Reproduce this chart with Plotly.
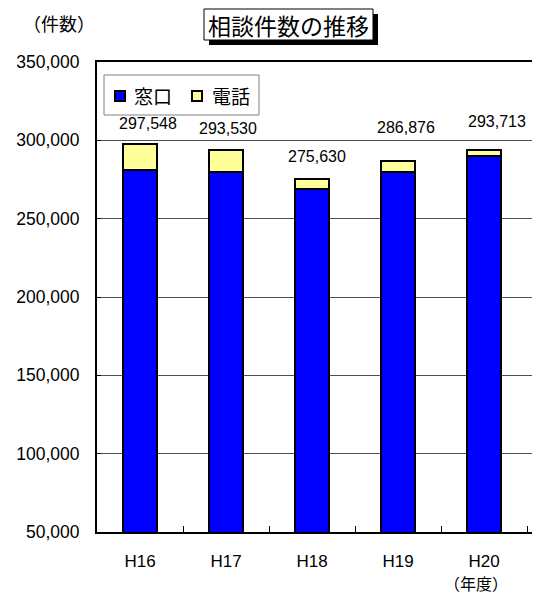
import plotly.graph_objects as go

categories = ["H16", "H17", "H18", "H19", "H20"]
madoguchi = [281000, 280000, 268800, 279600, 290000]
totals = [297548, 293530, 275630, 286876, 293713]
denwa = [t - m for t, m in zip(totals, madoguchi)]
total_labels = ["297,548", "293,530", "275,630", "286,876", "293,713"]
y_ticks = [50000, 100000, 150000, 200000, 250000, 300000, 350000]
series_names = ["窓口", "電話"]
series_colors = ["#0000FF", "#FFFF99"]

# label placement (pixels) - style only
label_dx = [8, 2, 5, 8, 13]
label_dy = [21, 22, 22, 33, 29]

NUM_FONT = "Liberation Sans, Arial, Noto Sans CJK JP"
JP_FONT = "Noto Sans CJK JP, Liberation Sans"

OFF = 8  # page body margin
PAGE_W, PAGE_H = 540, 597
W, H = PAGE_W - OFF, PAGE_H - OFF
L = 97 - OFF
T = 62 - OFF
B = H - (532 - OFF)
pw, ph = W - L, H - T - B

def px(x):
    return (x - OFF - L) / pw

def py(y):
    return (H - B - (y - OFF)) / ph

fig = go.Figure()
for name, vals, col in zip(series_names, [madoguchi, denwa], series_colors):
    fig.add_trace(go.Bar(x=categories, y=vals, name=name,
                         marker=dict(color=col, line=dict(color="black", width=2)),
                         width=0.4))

for c, t, lab, dx, dy in zip(categories, totals, total_labels, label_dx, label_dy):
    fig.add_annotation(x=c, y=t, text=lab, showarrow=False, xanchor="center",
                       yanchor="middle", xshift=dx, yshift=dy,
                       font=dict(family=NUM_FONT, size=16, color="black"))

# title box with shadow
fig.add_shape(type="rect", xref="paper", yref="paper",
              x0=px(209), x1=px(378), y0=py(45), y1=py(14),
              fillcolor="black", line=dict(width=0), layer="above")
fig.add_shape(type="rect", xref="paper", yref="paper",
              x0=px(204), x1=px(373), y0=py(40), y1=py(9),
              fillcolor="white", line=dict(color="black", width=1), layer="above")
fig.add_annotation(xref="paper", yref="paper", x=px(288.5), y=py(24.5),
                   text="相談件数の推移", showarrow=False, xanchor="center", yanchor="middle",
                   font=dict(family=JP_FONT, size=23, color="black"))
fig.add_annotation(xref="paper", yref="paper", x=px(59), y=py(23),
                   text="（件数）", showarrow=False, xanchor="center", yanchor="middle",
                   font=dict(family=JP_FONT, size=18, color="black"))
fig.add_annotation(xref="paper", yref="paper", x=px(476), y=py(583),
                   text="（年度）", showarrow=False, xanchor="center", yanchor="middle",
                   font=dict(family=JP_FONT, size=16, color="black"))

# legend box
fig.add_shape(type="rect", xref="paper", yref="paper",
              x0=px(104), x1=px(259), y0=py(115), y1=py(75),
              fillcolor="white", line=dict(color="#808080", width=1), layer="above")
for name, col, sx, tx in zip(series_names, series_colors, [115, 192], [132, 210]):
    fig.add_shape(type="rect", xref="paper", yref="paper",
                  x0=px(sx), x1=px(sx + 10), y0=py(101), y1=py(91),
                  fillcolor=col, line=dict(color="black", width=2), layer="above")
    fig.add_annotation(xref="paper", yref="paper", x=px(tx), y=py(95.5),
                       text=name, showarrow=False, xanchor="left", yanchor="middle",
                       font=dict(family=JP_FONT, size=19, color="black"))

fig.update_layout(
    width=W, height=H,
    margin=dict(l=L, r=0, t=T, b=B, pad=0),
    barmode="stack",
    plot_bgcolor="white", paper_bgcolor="white",
    showlegend=False,
    font=dict(family=NUM_FONT, color="black"),
)
fig.update_xaxes(range=[-0.5, 4.65], showline=True, linecolor="black", linewidth=2,
                 mirror=True, ticks="inside", ticklen=6, tickcolor="black",
                 tickson="boundaries", showgrid=False,
                 tickfont=dict(family=NUM_FONT, size=17), ticklabelstandoff=13)
fig.update_yaxes(range=[50000, 350000], tickvals=y_ticks,
                 ticktext=[f"{v:,}" for v in y_ticks],
                 showline=True, linecolor="black", linewidth=2,
                 ticks="inside", ticklen=4, tickcolor="black",
                 showgrid=True, gridcolor="#505050", gridwidth=1, zeroline=False,
                 tickfont=dict(family=NUM_FONT, size=17.5), ticklabelstandoff=12)

fig.write_html("out.html")
